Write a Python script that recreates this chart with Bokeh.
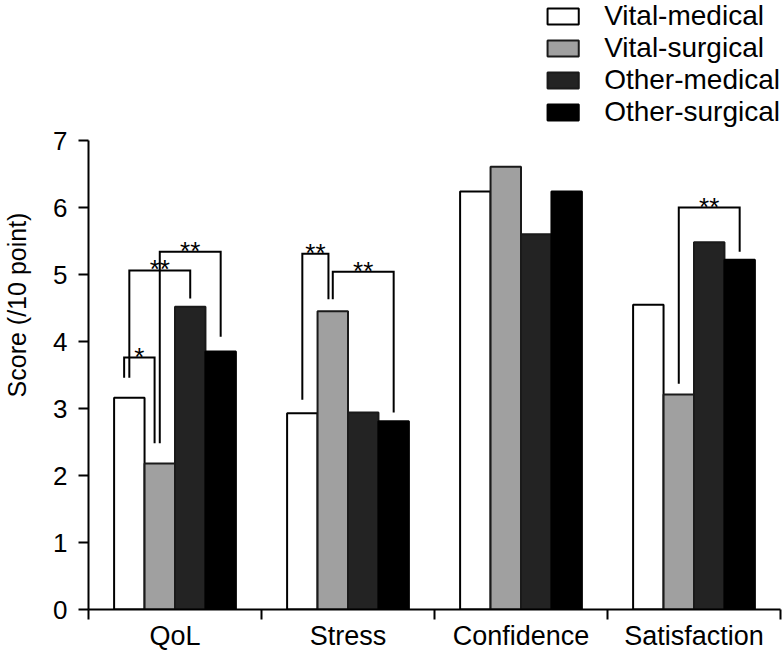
from bokeh.plotting import figure
from bokeh.models import Range1d, FixedTicker, Legend, LegendItem
from bokeh.core.properties import value
from bokeh.embed import file_html
from bokeh.resources import INLINE

# ---- data ----
categories = ["QoL", "Stress", "Confidence", "Satisfaction"]
series = ["Vital-medical", "Vital-surgical", "Other-medical", "Other-surgical"]
vital_medical = [3.16, 2.93, 6.24, 4.55]
vital_surgical = [2.18, 4.45, 6.61, 3.21]
other_medical = [4.52, 2.94, 5.60, 5.48]
other_surgical = [3.85, 2.81, 6.24, 5.22]
values = [vital_medical, vital_surgical, other_medical, other_surgical]
y_ticks = [0, 1, 2, 3, 4, 5, 6, 7]

# significance brackets: category, bar a, bar b, bracket top, leg ends, label
sig_cat = [0, 0, 0, 1, 1, 3]
sig_a = [0, 0, 1, 0, 1, 1]
sig_b = [1, 2, 3, 1, 3, 3]
sig_top = [3.76, 5.06, 5.34, 5.31, 5.04, 6.00]
sig_a_end = [3.46, 3.46, 2.48, 3.13, 4.63, 3.37]
sig_b_end = [2.48, 4.64, 4.07, 4.63, 2.94, 5.34]
sig_label = ["*", "**", "**", "**", "**", "**"]
sig_nudge_a = [-0.03, 0, 0, 0, 0, 0]
sig_nudge_b = [-0.03, 0, 0, -0.025, 0, 0]

# ---- style ----
fills = ["#ffffff", "#a0a0a0", "#232323", "#000000"]
lines = ["#000000", "#1a1a1a", "#1a1a1a", "#000000"]
bar_w = 0.176
offsets = [(-1.5 + k) * bar_w for k in range(4)]
FONT = "Liberation Sans"

p = figure(width=782, height=653, output_backend="svg", toolbar_location=None,
           x_range=Range1d(0, 4), y_range=Range1d(0, 609 / 67.0),
           min_border_left=88, min_border_right=2, min_border_top=0,
           min_border_bottom=44)
p.outline_line_color = None
p.grid.grid_line_color = None
p.background_fill_color = "white"

items = []
for k in range(4):
    xs = [i + 0.5 + offsets[k] for i in range(len(categories))]
    r = p.vbar(x=xs, top=values[k], bottom=0, width=bar_w,
               fill_color=fills[k], line_color=lines[k], line_width=2)
    items.append(LegendItem(label=series[k], renderers=[r]))

# brackets
bx, by, tx, ty = [], [], [], []
for j in range(len(sig_cat)):
    xa = sig_cat[j] + 0.5 + offsets[sig_a[j]] + sig_nudge_a[j]
    xb = sig_cat[j] + 0.5 + offsets[sig_b[j]] + sig_nudge_b[j]
    bx.append([xa, xa, xb, xb])
    by.append([sig_a_end[j], sig_top[j], sig_top[j], sig_b_end[j]])
    tx.append((xa + xb) / 2)
    ty.append(sig_top[j])
p.multi_line(xs=bx, ys=by, line_color="black", line_width=2, line_join="miter")
p.text(x=tx, y=ty, text=sig_label, text_align="center", text_baseline="alphabetic",
       y_offset=-1, text_font_size="26px", text_font=value(FONT), text_color="black")

# axes
xa_ = p.xaxis[0]
xa_.ticker = FixedTicker(ticks=[i + 0.5 for i in range(len(categories))],
                         minor_ticks=list(range(len(categories) + 1)))
xa_.major_label_overrides = {i + 0.5: c for i, c in enumerate(categories)}
xa_.major_tick_out = 10
xa_.major_tick_in = 0
xa_.major_tick_line_color = None
xa_.minor_tick_out = 10
xa_.minor_tick_in = 0
xa_.minor_tick_line_width = 2
xa_.minor_tick_line_color = "black"
xa_.axis_line_width = 2
xa_.major_label_standoff = 1
xa_.major_label_text_font = FONT
xa_.major_label_text_font_size = "27px"
xa_.major_label_text_color = "black"

ya = p.yaxis[0]
ya.ticker = FixedTicker(ticks=y_ticks, minor_ticks=[])
ya.bounds = (0, 7)
ya.major_tick_out = 10
ya.major_tick_in = 0
ya.major_tick_line_width = 2
ya.axis_line_width = 2
ya.major_label_standoff = 11
ya.major_label_text_font = FONT
ya.major_label_text_font_size = "26px"
ya.major_label_text_color = "black"
ya.axis_label = "Score (/10 point)"
ya.axis_label_text_font = FONT
ya.axis_label_text_font_size = "25px"
ya.axis_label_text_font_style = "normal"
ya.axis_label_text_color = "black"
ya.axis_label_standoff = 19

legend = Legend(items=items, location="top_right", margin=0, padding=0,
                spacing=0, glyph_width=39, glyph_height=20, label_standoff=22,
                label_text_font=FONT, label_text_font_size="28px",
                label_text_color="black", border_line_color=None,
                background_fill_alpha=0)
p.add_layout(legend, "center")

open("out.html", "w").write(file_html(p, INLINE))
